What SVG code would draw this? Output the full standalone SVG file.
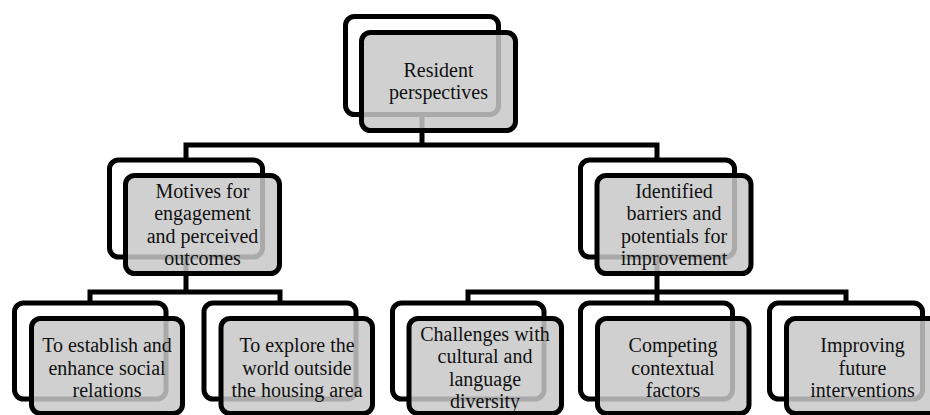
<svg xmlns="http://www.w3.org/2000/svg" width="930" height="415" viewBox="0 0 930 415">
<style>
  .back { fill: #ffffff; stroke: #000000; stroke-width: 5; }
  .front { fill: #c8c8c8; fill-opacity: 0.85; stroke: #000000; stroke-width: 5; }
  .conn { fill: none; stroke: #000000; stroke-width: 5; stroke-linejoin: miter; }
  text { font-family: "Liberation Serif", "Times New Roman", serif; font-size: 20px; fill: #111111; text-anchor: middle; }
</style>
<rect x="0" y="0" width="930" height="415" fill="#ffffff"/>
<g id="connectors">
  <polyline class="conn" points="422,114 422,145"/>
  <polyline class="conn" points="186,160 186,145 657,145 657,160"/>
  <polyline class="conn" points="186,257 186,292"/>
  <polyline class="conn" points="90,303 90,292 280,292 280,303"/>
  <polyline class="conn" points="657,257 657,292"/>
  <polyline class="conn" points="468,303 468,292 846,292 846,303"/>
  <polyline class="conn" points="657,292 657,303"/>
</g>
<g id="node-resident">
  <rect class="back" x="345.5" y="16.5" width="153" height="98" rx="9"/>
  <rect class="front" x="361.5" y="32.5" width="154" height="98" rx="9"/>
  <text x="438.5" y="77">Resident</text>
  <text x="438.5" y="99">perspectives</text>
</g>
<g id="node-motives">
  <rect class="back" x="109.5" y="160" width="153" height="97" rx="9"/>
  <rect class="front" x="125.5" y="175.5" width="154" height="98" rx="9"/>
  <text x="202.5" y="197.5">Motives for</text>
  <text x="202.5" y="220">engagement</text>
  <text x="202.5" y="242.5">and perceived</text>
  <text x="202.5" y="265">outcomes</text>
</g>
<g id="node-barriers">
  <rect class="back" x="580.5" y="160" width="154" height="97" rx="9"/>
  <rect class="front" x="597" y="175.5" width="154" height="98" rx="9"/>
  <text x="674" y="197.5">Identified</text>
  <text x="674" y="220">barriers and</text>
  <text x="674" y="242.5">potentials for</text>
  <text x="674" y="265">improvement</text>
</g>
<g id="node-social">
  <rect class="back" x="14.5" y="303" width="151.5" height="96" rx="9"/>
  <rect class="front" x="31.5" y="318.5" width="151" height="95" rx="9"/>
  <text x="107" y="352">To establish and</text>
  <text x="107" y="374.5">enhance social</text>
  <text x="107" y="397">relations</text>
</g>
<g id="node-explore">
  <rect class="back" x="204" y="303" width="152" height="96" rx="9"/>
  <rect class="front" x="221" y="318.5" width="151.5" height="95" rx="9"/>
  <text x="297" y="352">To explore the</text>
  <text x="297" y="374.5">world outside</text>
  <text x="297" y="397">the housing area</text>
</g>
<g id="node-challenges">
  <rect class="back" x="392.5" y="303" width="151.5" height="96" rx="9"/>
  <rect class="front" x="409" y="318.5" width="152.5" height="95" rx="9"/>
  <text x="485" y="340.5">Challenges with</text>
  <text x="485" y="363">cultural and</text>
  <text x="485" y="385.5">language</text>
  <text x="485" y="408">diversity</text>
</g>
<g id="node-competing">
  <rect class="back" x="580.5" y="303" width="152" height="96" rx="9"/>
  <rect class="front" x="597.5" y="318.5" width="151.5" height="95" rx="9"/>
  <text x="673" y="352">Competing</text>
  <text x="673" y="374.5">contextual</text>
  <text x="673" y="397">factors</text>
</g>
<g id="node-improving">
  <rect class="back" x="769.5" y="303" width="153" height="96" rx="9"/>
  <rect class="front" x="786.5" y="318.5" width="152" height="95" rx="9"/>
  <text x="862.5" y="352">Improving</text>
  <text x="862.5" y="374.5">future</text>
  <text x="862.5" y="397">interventions</text>
</g>
</svg>
